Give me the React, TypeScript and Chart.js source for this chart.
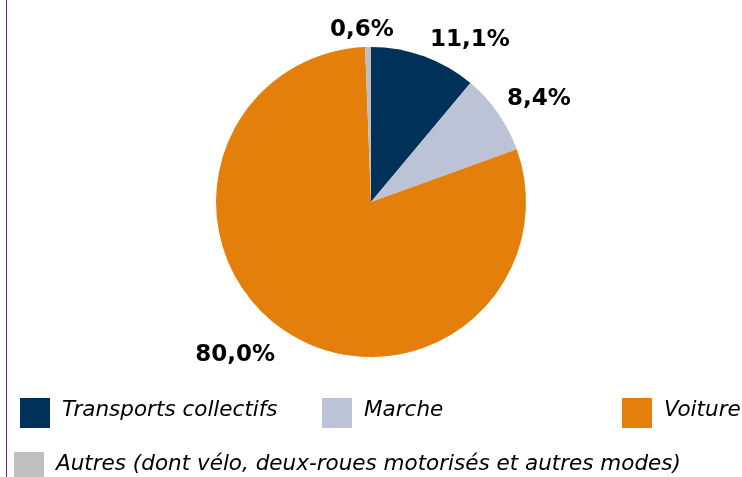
import React, { useEffect, useRef } from "react";
import { Chart, registerables } from "chart.js";

Chart.register(...registerables);

const categories = [
  "Transports collectifs",
  "Marche",
  "Voiture",
  "Autres (dont vélo, deux-roues motorisés et autres modes)",
];
const shares = [11.1, 8.4, 80.0, 0.6];
const shareLabels = ["11,1%", "8,4%", "80,0%", "0,6%"];
const colors = ["#003259", "#BDC3D6", "#E57F0C", "#BFBFBF"];

const FONT = "'DejaVu Sans', Verdana, sans-serif";

const overlayPlugin = {
  id: "overlay",
  afterDatasetsDraw(chart: any) {
    const ctx = chart.ctx;
    const meta = chart.getDatasetMeta(0);
    ctx.save();
    // left purple rule
    ctx.strokeStyle = "#7B1F7F";
    ctx.lineWidth = 1;
    ctx.beginPath();
    ctx.moveTo(6.5, 0);
    ctx.lineTo(6.5, chart.height);
    ctx.stroke();

    // percentage labels
    ctx.font = `bold 23px ${FONT}`;
    ctx.fillStyle = "#000";
    meta.data.forEach((arc: any, i: number) => {
      const mid = (arc.startAngle + arc.endAngle) / 2;
      const r = arc.outerRadius + 6;
      const c = Math.cos(mid);
      const s = Math.sin(mid);
      const x = arc.x + r * c;
      const y = arc.y + r * s;
      if (Math.abs(c) < 0.3) ctx.textAlign = "center";
      else ctx.textAlign = c > 0 ? "left" : "right";
      ctx.textBaseline = s < 0 ? "bottom" : "top";
      ctx.fillText(shareLabels[i], x + (c > 0 ? 4 : -6), y + (s < 0 ? 1 : 8));
    });

    // legend
    const items = [
      { x: 20, y: 398 },
      { x: 322, y: 398 },
      { x: 622, y: 398 },
      { x: 14, y: 452 },
    ];
    ctx.font = `italic 21.5px ${FONT}`;
    ctx.textAlign = "left";
    ctx.textBaseline = "middle";
    categories.forEach((name, i) => {
      const p = items[i];
      ctx.fillStyle = colors[i];
      ctx.fillRect(p.x, p.y, 30, 30);
      ctx.fillStyle = "#000";
      ctx.fillText(name, p.x + 42, p.y + 12);
    });
    ctx.restore();
  },
};

export default function App() {
  const ref = useRef<HTMLCanvasElement>(null);
  useEffect(() => {
    document.body.style.margin = "0";
    const chart = new Chart(ref.current!, {
      type: "pie",
      data: {
        labels: categories,
        datasets: [
          {
            data: shares,
            backgroundColor: colors,
            borderWidth: 0,
          },
        ],
      },
      options: {
        animation: false,
        responsive: false,
        maintainAspectRatio: false,
        layout: { padding: { top: 47, bottom: 120, left: 216, right: 216 } },
        plugins: {
          legend: { display: false },
          tooltip: { enabled: false },
        },
      },
      plugins: [overlayPlugin],
    });
    return () => chart.destroy();
  }, []);
  return (
    <div style={{ width: 742, height: 477, position: "relative" }}>
      <canvas ref={ref} width={742} height={477} />
    </div>
  );
}
